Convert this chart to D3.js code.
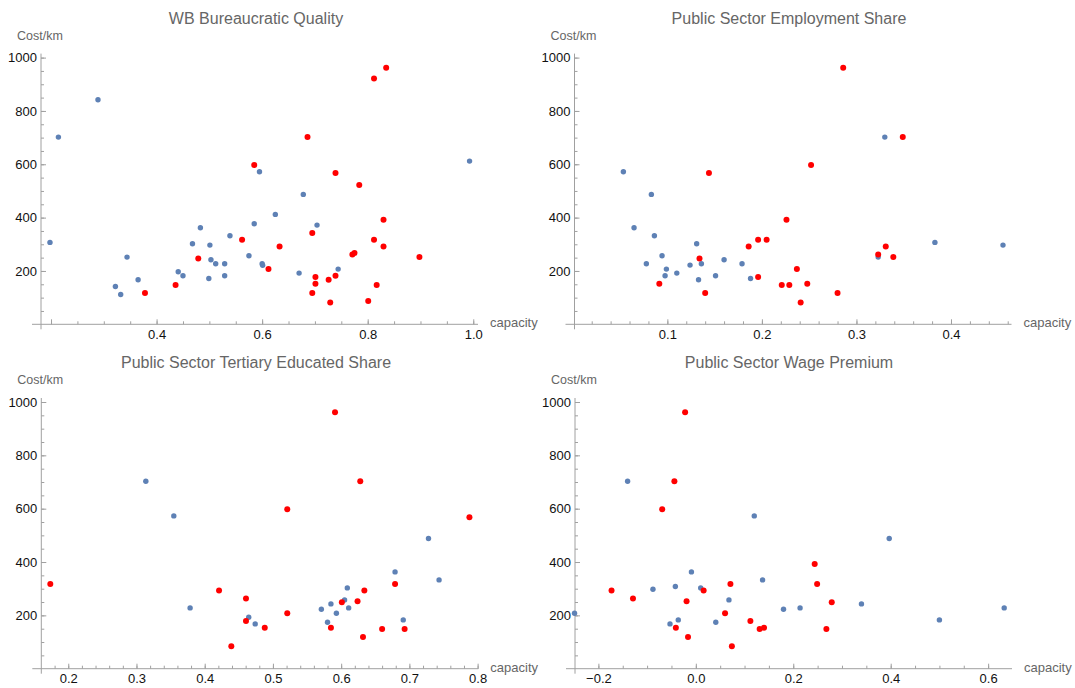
<!DOCTYPE html>
<html>
<head>
<meta charset="utf-8">
<script src="https://cdn.jsdelivr.net/npm/d3@7"></script>
<style>
  body { margin: 0; background: #fff; }
  text { font-family: "Liberation Sans", Arial, sans-serif; }
</style>
</head>
<body>
<svg width="1075" height="688"></svg>
<script>
// ---- data: [capacity, cost/km] ----
const bqBlue = [[0.198,307],[0.214,702],[0.289,842],[0.322,142],[0.332,112],[0.344,252],[0.365,167],[0.441,197],[0.450,182],[0.468,302],[0.483,362],[0.499,172],[0.501,297],[0.503,242],[0.512,227],[0.529,227],[0.529,182],[0.539,332],[0.575,257],[0.585,377],[0.595,572],[0.600,227],[0.601,221],[0.625,412],[0.678,487],[0.704,372],[0.670,192],[0.744,207],[0.993,612]];
const bqRed = [[0.378,117],[0.436,147],[0.479,247],[0.562,317],[0.585,597],[0.612,207],[0.686,702],[0.739,567],[0.784,522],[0.812,922],[0.835,962],[0.633,292],[0.695,342],[0.701,177],[0.701,152],[0.695,117],[0.726,167],[0.729,82],[0.739,182],[0.771,262],[0.775,267],[0.812,317],[0.830,392],[0.830,292],[0.817,147],[0.801,87],[0.898,252]];

const empBlue = [[0.0535,572],[0.0648,362],[0.0778,227],[0.0831,487],[0.0863,332],[0.0944,257],[0.0976,182],[0.099,207],[0.110,192],[0.124,222],[0.131,302],[0.133,167],[0.136,227],[0.151,182],[0.160,242],[0.179,227],[0.188,172],[0.330,702],[0.323,252],[0.383,307],[0.455,297]];
const empRed = [[0.0915,152],[0.134,247],[0.140,117],[0.144,567],[0.186,292],[0.196,317],[0.196,177],[0.205,317],[0.221,147],[0.226,392],[0.229,147],[0.237,207],[0.241,82],[0.248,152],[0.252,597],[0.286,962],[0.280,117],[0.349,702],[0.323,262],[0.331,292],[0.339,252]];

const eduBlue = [[0.3137,703],[0.3547,573],[0.3786,228],[0.4645,193],[0.474,168],[0.728,488],[0.679,363],[0.7435,333],[0.609,303],[0.605,258],[0.585,243],[0.571,223],[0.611,228],[0.593,208],[0.580,174],[0.691,183]];
const eduRed = [[0.1737,318],[0.421,293],[0.4605,263],[0.4605,179],[0.439,84],[0.488,154],[0.591,962],[0.628,703],[0.521,598],[0.788,568],[0.521,208],[0.585,154],[0.601,249],[0.624,253],[0.634,293],[0.679,318],[0.632,119],[0.660,149],[0.693,149]];

const wageBlue = [[-0.249,208],[-0.140,703],[-0.088,298],[-0.053,168],[-0.042,308],[-0.036,183],[-0.009,363],[0.010,303],[0.041,174],[0.068,258],[0.120,573],[0.137,333],[0.180,223],[0.214,228],[0.397,488],[0.340,243],[0.500,183],[0.633,228]];
const wageRed = [[-0.022,962],[-0.044,703],[-0.069,598],[-0.173,293],[-0.129,263],[-0.041,154],[-0.019,253],[-0.016,119],[0.016,293],[0.071,318],[0.060,208],[0.074,84],[0.112,179],[0.131,149],[0.140,154],[0.244,393],[0.249,318],[0.279,249],[0.268,149]];

const titles = ["WB Bureaucratic Quality", "Public Sector Employment Share",
                "Public Sector Tertiary Educated Share", "Public Sector Wage Premium"];
const xDomains = [[0.181, 1.009], [0.0018, 0.464], [0.1605, 0.801], [-0.248, 0.649]];
const xMajorTicks = [[0.2, 0.4, 0.6, 0.8, 1.0], [0.1, 0.2, 0.3, 0.4],
                     [0.2, 0.3, 0.4, 0.5, 0.6, 0.7, 0.8], [-0.2, 0.0, 0.2, 0.4, 0.6]];
const xMinorSteps = [0.05, 0.02, 0.02, 0.05];
const yMajorTicks = [200, 400, 600, 800, 1000];
const yDomain = [0, 1015];

// ---- layout ----
const plotW = 437, plotH = 270.7;
const layout = [
  { left: 41,   axisY: 324.3, titleX: 256 },
  { left: 574.5, axisY: 324.3, titleX: 789 },
  { left: 41.3, axisY: 668.7, titleX: 256 },
  { left: 575,  axisY: 668.7, titleX: 789 }
];
const series = [[bqBlue, bqRed], [empBlue, empRed], [eduBlue, eduRed], [wageBlue, wageRed]];

const axisColor = "#a0a0a0";
const svg = d3.select("svg");

layout.forEach((L, i) => {
  const g = svg.append("g");
  const x = d3.scaleLinear().domain(xDomains[i]).range([L.left, L.left + plotW]);
  const y = d3.scaleLinear().domain(yDomain).range([L.axisY, L.axisY - plotH]);

  // minor ticks
  const d0 = xDomains[i][0], d1 = xDomains[i][1], st = xMinorSteps[i];
  const xMinor = d3.range(Math.ceil(d0 / st - 1e-6), Math.floor(d1 / st + 1e-6) + 1)
      .map(k => +(k * st).toFixed(4));
  const yMinor = d3.range(50, 1001, 50);

  const xMin = g.append("g").attr("transform", `translate(0,${L.axisY})`)
      .call(d3.axisBottom(x).tickValues(xMinor).tickSize(-3).tickFormat(""));
  const xMaj = g.append("g").attr("transform", `translate(0,${L.axisY})`)
      .call(d3.axisBottom(x).tickValues(xMajorTicks[i]).tickSize(-5).tickPadding(5)
        .tickFormat(d => Math.abs(x(d) - L.left) < 15 ? "" : d3.format(".1f")(d)));
  const yMin = g.append("g").attr("transform", `translate(${L.left},0)`)
      .call(d3.axisLeft(y).tickValues(yMinor).tickSize(-3).tickFormat(""));
  const yMaj = g.append("g").attr("transform", `translate(${L.left},0)`)
      .call(d3.axisLeft(y).tickValues(yMajorTicks).tickSize(-5).tickPadding(4).tickFormat(d3.format("d")));

  [xMin, xMaj, yMin, yMaj].forEach(a => {
    a.select(".domain").remove();
    a.selectAll("line").attr("stroke", axisColor);
    a.selectAll("text").attr("fill", "#111").style("font-size", "13px");
  });

  // axis lines
  g.append("line").attr("x1", L.left - 9).attr("x2", L.left + plotW)
    .attr("y1", L.axisY).attr("y2", L.axisY).attr("stroke", axisColor);
  g.append("line").attr("x1", L.left).attr("x2", L.left)
    .attr("y1", L.axisY + 5).attr("y2", L.axisY - plotH).attr("stroke", axisColor);

  // points: blue first, red on top
  const [blue, red] = series[i];
  g.append("g").selectAll("circle").data(blue).enter().append("circle")
    .attr("cx", d => x(d[0])).attr("cy", d => y(d[1])).attr("r", 2.7).attr("fill", "#5e81b5");
  g.append("g").selectAll("circle").data(red).enter().append("circle")
    .attr("cx", d => x(d[0])).attr("cy", d => y(d[1])).attr("r", 3).attr("fill", "#ff0000");

  // labels
  g.append("text").attr("x", L.titleX).attr("y", L.axisY - 300.5)
    .attr("text-anchor", "middle").attr("fill", "#666").style("font-size", "16px")
    .text(titles[i]);
  g.append("text").attr("x", L.left - 24).attr("y", L.axisY - 284.5)
    .attr("fill", "#666").style("font-size", "12.5px").text("Cost/km");
  g.append("text").attr("x", L.left + plotW + 12).attr("y", L.axisY + 3)
    .attr("fill", "#666").style("font-size", "13px").text("capacity");
});
</script>
</body>
</html>
